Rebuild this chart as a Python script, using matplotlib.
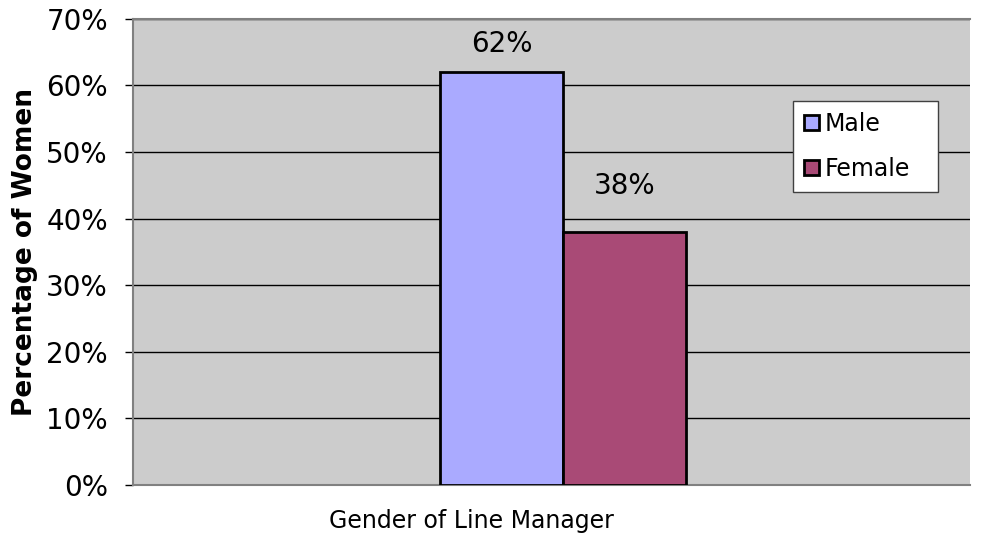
import matplotlib.pyplot as plt
from matplotlib.ticker import PercentFormatter

# data
categories = ["Male", "Female"]
values = [62, 38]
y_ticks = [0, 10, 20, 30, 40, 50, 60, 70]

colors = ["#AAAAFF", "#A94A76"]
bar_width = 0.147
label_gap = [20, 38]  # px between bar top and label baseline (as in the reference)

fig = plt.figure(figsize=(9.85, 5.37), dpi=100)
ax = fig.add_axes([0.135, 0.097, 0.850, 0.868])
ax.set_facecolor("#CCCCCC")

offsets = [-bar_width / 2, bar_width / 2]
bars = []
for name, val, col, off in zip(categories, values, colors, offsets):
    b = ax.bar(off, val, width=bar_width, color=col, edgecolor="black",
               linewidth=2, label=name, zorder=3)
    bars.append(b[0])

for rect, val, gap in zip(bars, values, label_gap):
    ax.annotate(f"{val}%", (rect.get_x() + rect.get_width() / 2, rect.get_height()),
                xytext=(0, gap * 0.72), textcoords="offset points",
                ha="center", va="baseline", fontsize=20)

ax.set_xlim(-0.5137, 0.4863)
ax.set_ylim(0, 70)
ax.set_yticks(y_ticks)
ax.yaxis.set_major_formatter(PercentFormatter(decimals=0))
ax.set_xticks([])
ax.tick_params(axis="y", labelsize=20, length=6, width=1, color="black", pad=12)
ax.yaxis.grid(True, color="black", linewidth=1, zorder=0)
ax.set_axisbelow(True)

for s in ["left", "bottom", "top"]:
    ax.spines[s].set_color("#808080")
    ax.spines[s].set_linewidth(1.5)
ax.spines["right"].set_visible(False)

ax.set_ylabel("Percentage of Women", fontsize=19, fontweight="bold", labelpad=6)
ax.set_xlabel("Gender of Line Manager", fontsize=17, labelpad=17)
# the title sits left of the plot centre in the original
ax.xaxis.label.set_x((471 - 133) / 837)

leg = ax.legend(loc="upper left",
                bbox_to_anchor=(793 / 985, 1 - 190 / 537, 145 / 985, 89 / 537),
                bbox_transform=fig.transFigure, mode="expand", fontsize=17,
                frameon=True, fancybox=False, framealpha=1, facecolor="white",
                handlelength=0.64, handleheight=0.64,
                handletextpad=0.25, labelspacing=0.9, borderpad=0.45,
                borderaxespad=0)
leg.get_frame().set_edgecolor("#404040")
leg.get_frame().set_linewidth(1)

fig.savefig("out.png", dpi=100)
